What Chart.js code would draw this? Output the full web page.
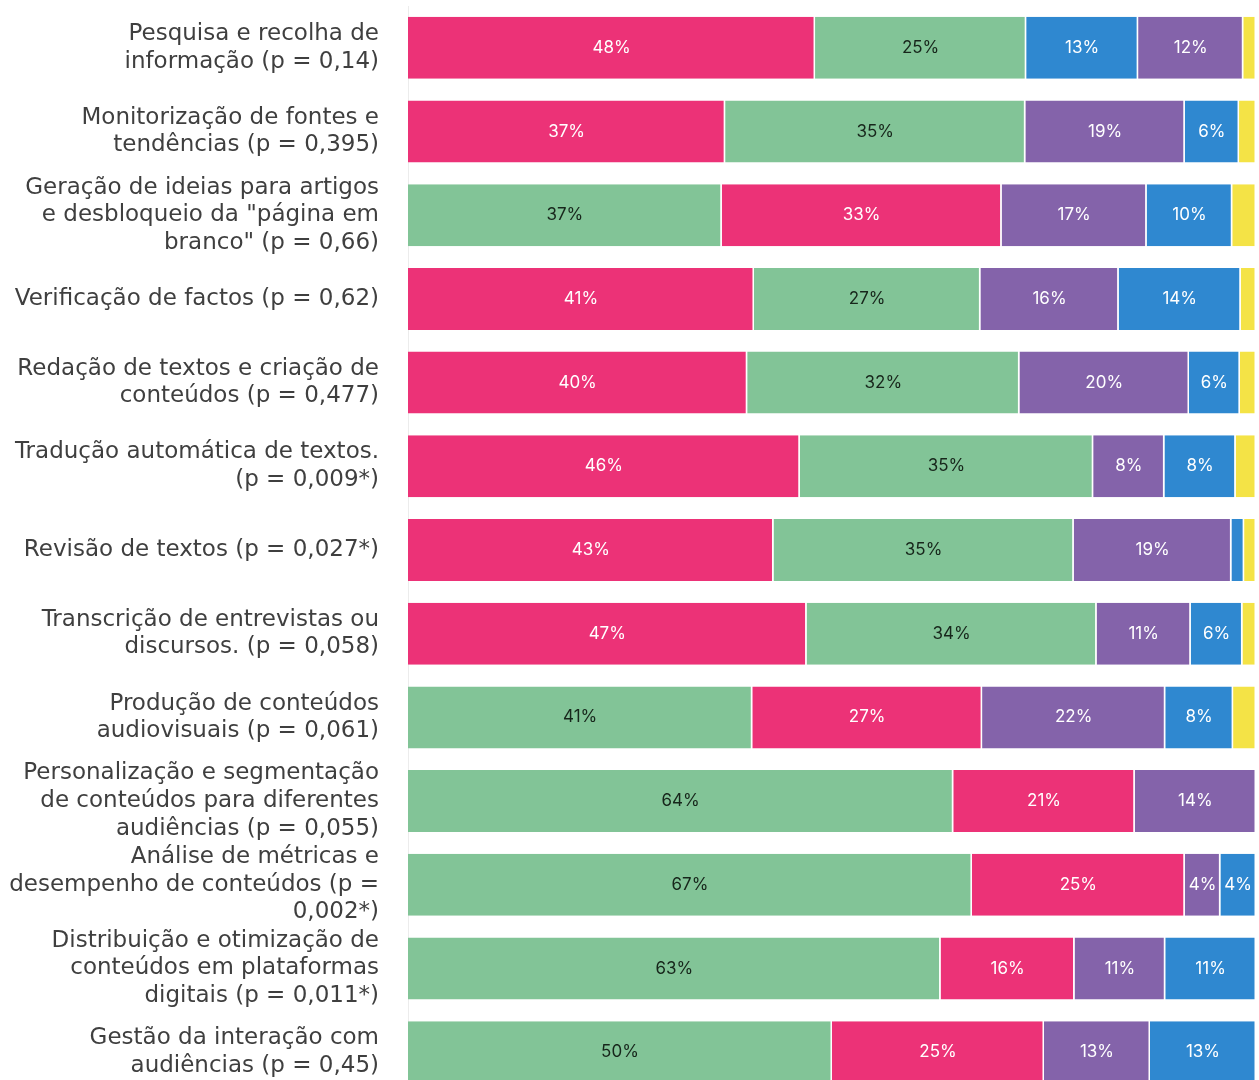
<!DOCTYPE html>
<html>
<head>
<meta charset="utf-8">
<script src="https://cdn.jsdelivr.net/npm/chart.js@4"></script>
<style>
  html, body { margin: 0; padding: 0; background: #fff; overflow: hidden; }
  #wrap { width: 1259px; height: 1094px; position: relative; }
</style>
</head>
<body>
<div id="wrap"><canvas id="chart"></canvas></div>
<script>
// categorias (eixo y), em várias linhas como no original
const categories = [
  ['Pesquisa e recolha de', 'informação (p = 0,14)'],
  ['Monitorização de fontes e', 'tendências (p = 0,395)'],
  ['Geração de ideias para artigos', 'e desbloqueio da "página em', 'branco" (p = 0,66)'],
  ['Verificação de factos (p = 0,62)'],
  ['Redação de textos e criação de', 'conteúdos (p = 0,477)'],
  ['Tradução automática de textos.', '(p = 0,009*)'],
  ['Revisão de textos (p = 0,027*)'],
  ['Transcrição de entrevistas ou', 'discursos. (p = 0,058)'],
  ['Produção de conteúdos', 'audiovisuais (p = 0,061)'],
  ['Personalização e segmentação', 'de conteúdos para diferentes', 'audiências (p = 0,055)'],
  ['Análise de métricas e', 'desempenho de conteúdos (p =', '0,002*)'],
  ['Distribuição e otimização de', 'conteúdos em plataformas', 'digitais (p = 0,011*)'],
  ['Gestão da interação com', 'audiências (p = 0,45)'],
];

// percentagens por série (cor)
const pinkValues   = [48.0, 37.4, 33.0, 40.8, 40.0, 46.2, 43.1, 47.0, 27.1, 21.4, 25.1, 15.8, 25.0];
const greenValues  = [24.9, 35.4, 37.0, 26.7, 32.1, 34.6, 35.4, 34.2, 40.6, 64.3, 66.5, 62.8, 50.0];
const purpleValues = [12.4, 18.8, 17.1, 16.3, 20.0, 8.4, 18.6, 11.1, 21.6, 14.3, 4.2, 10.7, 12.5];
const blueValues   = [13.2, 6.4, 10.1, 14.4, 6.0, 8.4, 1.5, 6.1, 8.0, null, 4.2, 10.7, 12.5];
const yellowValues = [1.5, 2.0, 2.8, 1.8, 1.9, 2.4, 1.4, 1.6, 2.7, null, null, null, null];

const series = [
  { values: pinkValues,   color: '#ec3277', text: '#ffffff' },
  { values: greenValues,  color: '#82c497', text: '#17261b' },
  { values: purpleValues, color: '#8463aa', text: '#ffffff' },
  { values: blueValues,   color: '#2f88d0', text: '#ffffff' },
  { values: yellowValues, color: '#f4e346', text: '#000000' },
];

// cada linha é ordenada da maior para a menor fatia
const ranked = categories.map((_, i) =>
  series
    .map((s, k) => ({ v: s.values[i], s, k }))
    .filter(d => d.v != null)
    .sort((a, b) => (b.v - a.v) || (a.k - b.k))
);

const datasets = series.map((_, r) => ({
  data: ranked.map(row => row[r] ? row[r].v : null),
  backgroundColor: ranked.map(row => row[r] ? row[r].s.color : 'transparent'),
  textColor: ranked.map(row => row[r] ? row[r].s.text : '#000'),
  borderColor: '#ffffff',
  borderWidth: { left: 0, right: 1.5, top: 0, bottom: 0 },
  borderSkipped: false,
  barPercentage: 0.741,
  categoryPercentage: 1,
}));

const segmentLabels = {
  id: 'segmentLabels',
  afterDatasetsDraw(chart) {
    const ctx = chart.ctx;
    ctx.save();
    ctx.font = '17px Inter, "Noto Sans", sans-serif';
    ctx.textAlign = 'center';
    ctx.textBaseline = 'middle';
    chart.data.datasets.forEach((ds, di) => {
      chart.getDatasetMeta(di).data.forEach((bar, i) => {
        const v = ds.data[i];
        if (v == null || v < 3) return;
        ctx.fillStyle = ds.textColor[i];
        ctx.fillText(Math.round(v) + '%', (bar.x + bar.base) / 2, bar.y);
      });
    });
    ctx.restore();
  }
};

new Chart(document.getElementById('chart'), {
  type: 'bar',
  data: { labels: categories, datasets },
  plugins: [segmentLabels],
  options: {
    indexAxis: 'y',
    responsive: true,
    maintainAspectRatio: false,
    animation: false,
    layout: { padding: { top: 6, right: 3, bottom: 0, left: 0 } },
    plugins: { legend: { display: false }, tooltip: { enabled: false } },
    scales: {
      x: { stacked: true, min: 0, max: 100, display: false },
      y: {
        stacked: true,
        afterFit(scale) {
          scale.width = 408;
          scale.paddingTop = 0;
          scale.paddingBottom = 0;
        },
        grid: { display: false, drawTicks: false },
        border: { display: true, color: '#ececec', width: 1 },
        ticks: {
          autoSkip: false,
          padding: 29,
          color: '#3f3f3f',
          font: { family: '"DejaVu Sans", sans-serif', size: 23, lineHeight: 1.2 },
        },
      },
    },
  },
});
</script>
</body>
</html>
